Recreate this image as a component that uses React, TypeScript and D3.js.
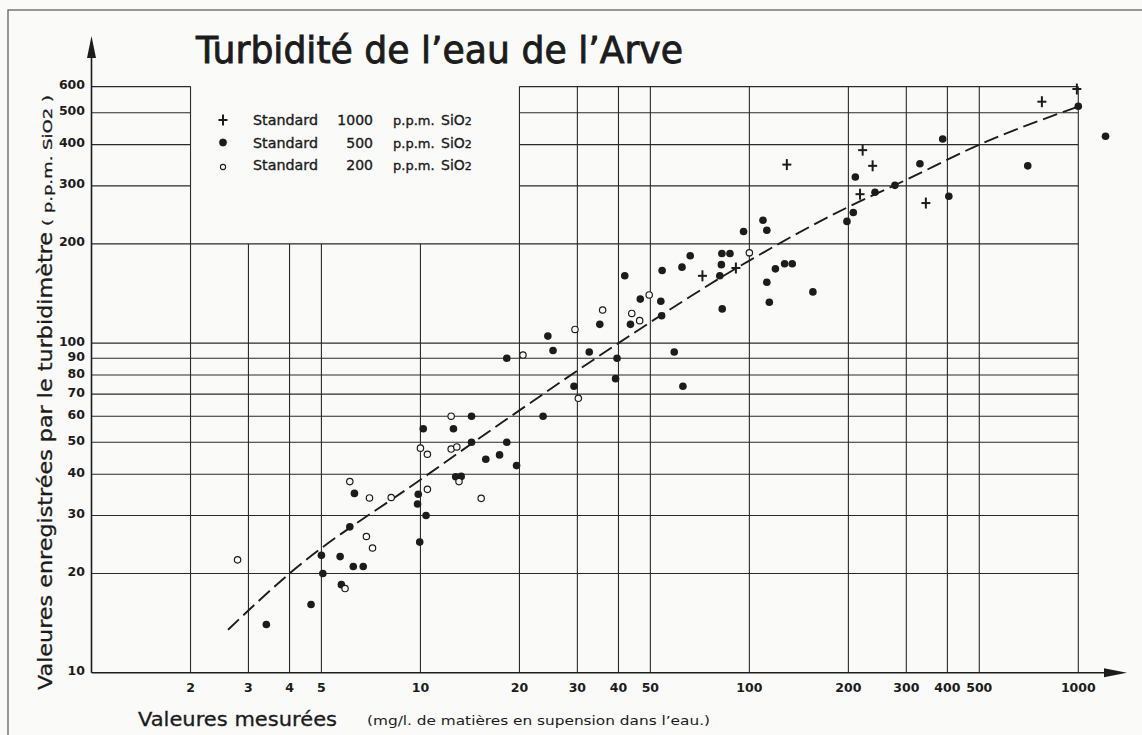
import * as d3 from 'd3'

// standard 1000 p.p.m. SiO2 (crosses)
const std1000: [number, number][] = [
  [72, 160], [91, 169], [130, 348], [217, 283], [221, 385], [237, 345],
  [344, 266], [775, 540], [990, 590],
]

// standard 500 p.p.m. SiO2 (filled dots)
const std500: [number, number][] = [
  [3.4, 14], [4.65, 16.1], [5.0, 22.7], [5.05, 20], [5.7, 22.5], [5.75, 18.5],
  [6.25, 21], [6.7, 21], [6.1, 27.7], [6.3, 35], [9.85, 34.8], [9.8, 32.5],
  [10.4, 30], [9.95, 24.9], [10.2, 55], [12.6, 55], [14.3, 60], [14.3, 50],
  [12.8, 39.3], [13.3, 39.4], [15.8, 44.4], [17.4, 45.8], [18.3, 50], [19.6, 42.5],
  [18.3, 90], [23.6, 60], [24.4, 105], [25.3, 95], [29.3, 74], [32.6, 94],
  [35.1, 114], [39.6, 90], [39.2, 78], [41.8, 160], [43.5, 114], [46.6, 136],
  [53.8, 134], [54.1, 121], [54.3, 166], [59.1, 94], [62.4, 170], [62.8, 74],
  [66.1, 184], [81.3, 160], [82.2, 173], [82.5, 187], [87.3, 187], [82.7, 127],
  [96, 218], [110, 236], [113, 220], [113, 153], [115, 133], [120, 168],
  [128, 174], [135, 174], [156, 143], [198, 234], [207, 249], [210, 319],
  [241, 287], [277, 301], [330, 350], [387, 416], [404, 279], [702, 345],
  [1000, 523], [1210, 424],
]

// standard 200 p.p.m. SiO2 (open circles)
const std200: [number, number][] = [
  [2.78, 22], [5.9, 18], [6.1, 38], [6.85, 25.9], [7.15, 23.9], [7.0, 33.9],
  [8.15, 34], [10, 48], [10.5, 46], [10.5, 36], [12.4, 60], [12.4, 47.7],
  [12.9, 48.4], [13.1, 38], [15.3, 33.8], [20.5, 92], [29.5, 110], [30.2, 68],
  [35.8, 126], [43.9, 123], [46.4, 117], [49.6, 140], [100, 188],
]

// fitted dashed curve
const fitCurve: [number, number][] = [
  [2.6, 13.5], [4, 20], [10, 38.5], [20, 62.5], [40, 100], [100, 178],
  [200, 259], [300, 313], [500, 400], [1000, 522],
]

const xTicks = [2, 3, 4, 5, 10, 20, 30, 40, 50, 100, 200, 300, 400, 500, 1000]
const yTicks = [10, 20, 30, 40, 50, 60, 70, 80, 90, 100, 200, 300, 400, 500, 600]
const xGridShort = [3, 4, 5, 10]
const xGridTall = [2, 20, 30, 40, 50, 100, 200, 300, 400, 500, 1000]
const yGridFull = [20, 30, 40, 50, 60, 70, 80, 90, 100, 200]
const yGridSplit = [300, 400, 500, 600]

const legendRows = [
  { sym: 'plus', num: '1000' },
  { sym: 'dot', num: '500' },
  { sym: 'ring', num: '200' },
]

const W = 1142
const H = 735
const ink = '#1c1c1c'
const font = '"DejaVu Sans", "Open Sans", sans-serif'

const App = () => {
  const x = d3.scaleLog().domain([1, 1000]).range([91.5, 1078.3])
  const y = d3.scaleLog().domain([10, 1000]).range([672.7, 13.5])

  const line = d3
    .line<[number, number]>()
    .x(d => x(d[0]))
    .y(d => y(d[1]))
    .curve(d3.curveMonotoneX)

  const gridColor = '#2a2a2a'
  const gw = 1.1

  const plus = (cx: number, cy: number, k: string) => (
    <g key={k} stroke={ink} strokeWidth={2}>
      <line x1={cx - 4.5} x2={cx + 4.5} y1={cy} y2={cy} />
      <line x1={cx} x2={cx} y1={cy - 5.5} y2={cy + 5.5} />
    </g>
  )

  return (
    <svg
      width={W}
      height={H}
      style={{ position: 'absolute', left: 0, top: 0, background: '#fafaf8' }}
    >
      <rect x={8} y={10} width={1300} height={900} fill="none" stroke="#555" strokeWidth={1.2} />

      {/* grid */}
      <g stroke={gridColor} strokeWidth={gw}>
        {yGridFull.map(v => (
          <line key={'hy' + v} x1={x(1)} x2={x(1000)} y1={y(v)} y2={y(v)} />
        ))}
        {yGridSplit.map(v => (
          <g key={'hs' + v}>
            <line x1={x(1)} x2={x(2)} y1={y(v)} y2={y(v)} />
            <line x1={x(20)} x2={x(1000)} y1={y(v)} y2={y(v)} />
          </g>
        ))}
        {xGridTall.map(v => (
          <line key={'vt' + v} x1={x(v)} x2={x(v)} y1={y(10)} y2={y(600)} />
        ))}
        {xGridShort.map(v => (
          <line key={'vs' + v} x1={x(v)} x2={x(v)} y1={y(10)} y2={y(200)} />
        ))}
      </g>

      {/* axes with arrows */}
      <g stroke={ink} strokeWidth={1.6}>
        <line x1={x(1)} x2={x(1)} y1={y(10)} y2={45} />
        <line x1={x(1)} x2={1115} y1={y(10)} y2={y(10)} />
      </g>
      <path d={`M${x(1)},36 L${x(1) - 4.5},58 L${x(1) + 4.5},58 Z`} fill={ink} />
      <path d={`M1127,${y(10)} L1104,${y(10) - 4.5} L1104,${y(10) + 4.5} Z`} fill={ink} />

      {/* tick labels */}
      <g fontFamily={font} fontSize={12.5} fontWeight={600} fill={ink}>
        {yTicks.map(v => (
          <text key={'yl' + v} x={85} y={y(v) - 1} textAnchor="end" dominantBaseline="middle">
            {v}
          </text>
        ))}
        {xTicks.map(v => (
          <text key={'xl' + v} x={x(v)} y={692} textAnchor="middle">
            {v}
          </text>
        ))}
      </g>

      {/* fitted curve */}
      <path
        d={line(fitCurve) || ''}
        fill="none"
        stroke={ink}
        strokeWidth={1.9}
        strokeDasharray="15 6"
      />

      {/* data */}
      {std500.map((d, i) => (
        <circle key={'f' + i} cx={x(d[0])} cy={y(d[1])} r={3.8} fill={ink} />
      ))}
      {std200.map((d, i) => (
        <circle
          key={'o' + i}
          cx={x(d[0])}
          cy={y(d[1])}
          r={3.2}
          fill="#fafaf8"
          stroke={ink}
          strokeWidth={1.2}
        />
      ))}
      {std1000.map((d, i) => plus(x(d[0]), y(d[1]), 'p' + i))}

      {/* legend */}
      <g fontFamily={font} fontSize={14} fill={ink} stroke={ink} strokeWidth={0.35}>
        {legendRows.map((r, i) => {
          const cy = 120 + i * 22.5
          return (
            <g key={r.num}>
              {r.sym === 'plus' && plus(223, cy, 'lp')}
              {r.sym === 'dot' && <circle cx={223} cy={cy} r={3.7} fill={ink} />}
              {r.sym === 'ring' && (
                <circle cx={223} cy={cy + 2} r={2.6} fill="none" stroke={ink} strokeWidth={1.1} />
              )}
              <text x={253} y={cy + 5} textLength={65} lengthAdjust="spacingAndGlyphs">
                Standard
              </text>
              <text x={373} y={cy + 5} textAnchor="end">
                {r.num}
              </text>
              <text x={393} y={cy + 5} fontSize={13}>
                p.p.m.
              </text>
              <text x={441} y={cy + 5}>
                SiO<tspan fontSize={11}>2</tspan>
              </text>
            </g>
          )
        })}
      </g>

      {/* title */}
      <text
        x={196}
        y={63}
        fontFamily={font}
        fontSize={38}
        fill={ink}
        stroke={ink}
        strokeWidth={0.9}
        textLength={487}
        lengthAdjust="spacingAndGlyphs"
      >
        Turbidité de l’eau de l’Arve
      </text>

      {/* y axis title */}
      <g transform="translate(52,0) rotate(-90)" fontFamily={font} fill={ink} stroke={ink} strokeWidth={0.3}>
        <text x={-690} y={0} fontSize={19} textLength={458} lengthAdjust="spacingAndGlyphs">
          Valeures enregistrées par le turbidimètre
        </text>
        <text x={-226} y={0} fontSize={13} textLength={131} lengthAdjust="spacingAndGlyphs">
          ( p.p.m. SiO2 )
        </text>
      </g>

      {/* x axis title */}
      <text
        x={138}
        y={726}
        fontFamily={font}
        fontSize={19}
        fill={ink}
        stroke={ink}
        strokeWidth={0.3}
        textLength={199}
        lengthAdjust="spacingAndGlyphs"
      >
        Valeures mesurées
      </text>
      <text
        x={367}
        y={725}
        fontFamily={font}
        fontSize={12}
        fill={ink}
        textLength={343}
        lengthAdjust="spacingAndGlyphs"
      >
        (mg/l. de matières en supension dans l’eau.)
      </text>
    </svg>
  )
}

export default App
